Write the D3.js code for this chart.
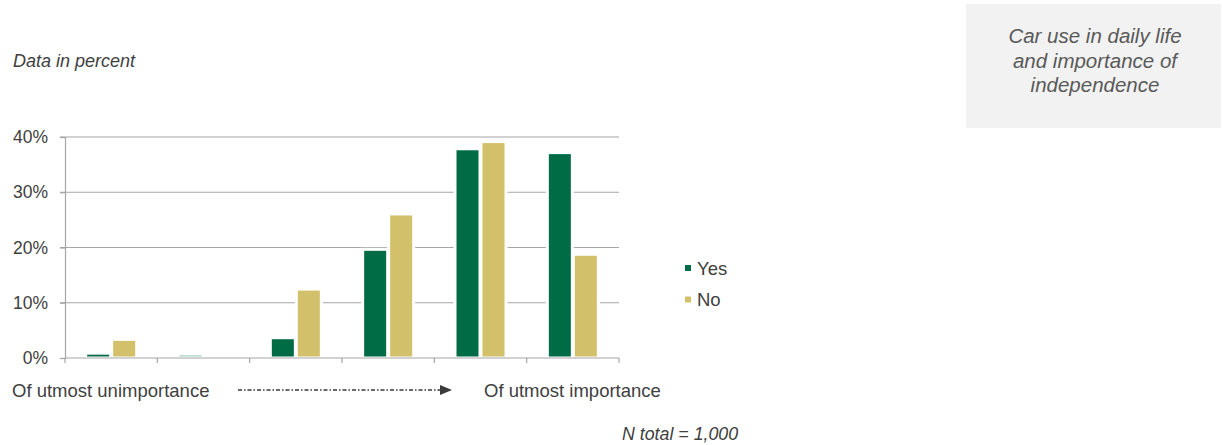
<!DOCTYPE html>
<html>
<head>
<meta charset="utf-8">
<script src="https://cdn.jsdelivr.net/npm/d3@7"></script>
<style>
  html, body { margin: 0; padding: 0; background: #fff; }
  svg { display: block; }
  text { font-family: "Liberation Sans", Arial, sans-serif; }
</style>
</head>
<body>
<svg id="chart" width="1222" height="445"></svg>
<script>
// ---- data ----
const categories = ["1", "2", "3", "4", "5", "6"];
const seriesNames = ["Yes", "No"];
const yesValues = [0.6, 0.5, 3.4, 19.4, 37.6, 36.9];
const noValues  = [3.1, 0.0, 12.2, 25.8, 38.9, 18.5];
const yTicks = [0, 10, 20, 30, 40];
const yTickLabels = ["0%", "10%", "20%", "30%", "40%"];
const leftLabel = "Of utmost unimportance";
const rightLabel = "Of utmost importance";
const subtitle = "Data in percent";
const footnote = "N total = 1,000";
const boxTitle = ["Car use in daily life", "and importance of", "independence"];

const colors = { Yes: "#006c45", No: "#d3c06a" };
const textColor = "#404040";
const gridColor = "#a6a6a6";

const svg = d3.select("#chart");

const x0 = 65, x1 = 619, yTop = 137, yBottom = 358;

const x = d3.scaleBand().domain(categories).range([x0, x1]).paddingInner(0).paddingOuter(0);
const y = d3.scaleLinear().domain([0, 40]).range([yBottom, yTop]);

// gridlines
svg.append("g")
  .selectAll("line")
  .data(yTicks.filter(d => d > 0))
  .join("line")
  .attr("x1", x0 - 5).attr("x2", x1)
  .attr("y1", d => y(d)).attr("y2", d => y(d))
  .attr("stroke", gridColor).attr("stroke-width", 1.2);

// bars
const barW = 22, innerGap = 4;
const rows = categories.map((c, i) => ({ c, Yes: yesValues[i], No: noValues[i] }));
const barData = [];
rows.forEach(r => {
  seriesNames.forEach((s, j) => {
    barData.push({ c: r.c, s, v: r[s], j });
  });
});
const xPos = d => x(d.c) + x.bandwidth() / 2 + (d.j === 0 ? -(innerGap / 2 + barW) : innerGap / 2);

const gBars = svg.append("g");
// white halo behind bars (interrupts gridlines)
gBars.selectAll("rect.halo")
  .data(barData.filter(d => d.v > 0))
  .join("rect")
  .attr("class", "halo")
  .attr("x", d => xPos(d) - 3)
  .attr("width", barW + 6)
  .attr("y", d => y(d.v) - 3)
  .attr("height", d => yBottom - y(d.v) + 3)
  .attr("fill", "#fff");
gBars.selectAll("rect.bar")
  .data(barData.filter(d => d.v > 0))
  .join("rect")
  .attr("class", "bar")
  .attr("x", d => xPos(d))
  .attr("width", barW)
  .attr("y", d => y(d.v))
  .attr("height", d => Math.max(0, yBottom - 1.5 - y(d.v)))
  .attr("fill", d => d.v < 0.55 ? "#a9d3c3" : colors[d.s]);

// y axis
const yAxis = d3.axisLeft(y).tickValues(yTicks).tickFormat((d, i) => yTickLabels[i]).tickSize(5).tickPadding(12);
const gy = svg.append("g").attr("transform", `translate(${x0},0)`).call(yAxis);
gy.select(".domain").attr("stroke", gridColor).attr("stroke-width", 1.2);
gy.selectAll(".tick line").attr("stroke", gridColor).attr("stroke-width", 1.2);
gy.selectAll(".tick text").attr("fill", textColor).style("font-size", "17.5px").style("font-family", "'Liberation Sans', Arial, sans-serif");

// x axis: baseline with boundary ticks
const boundaries = categories.map(c => x(c)).concat([x1]);
svg.append("line")
  .attr("x1", x0).attr("x2", x1).attr("y1", yBottom).attr("y2", yBottom)
  .attr("stroke", gridColor).attr("stroke-width", 1.2);
svg.append("g").selectAll("line")
  .data(boundaries)
  .join("line")
  .attr("x1", d => d).attr("x2", d => d)
  .attr("y1", yBottom).attr("y2", yBottom + 5)
  .attr("stroke", gridColor).attr("stroke-width", 1.2);

// category endpoint labels
svg.append("text").attr("x", 12).attr("y", 397)
  .attr("fill", textColor).style("font-size", "18.5px").text(leftLabel);
svg.append("text").attr("x", 484).attr("y", 397)
  .attr("fill", textColor).style("font-size", "18.5px").text(rightLabel);

// dash-dot arrow
svg.append("line")
  .attr("x1", 238).attr("x2", 441).attr("y1", 390).attr("y2", 390)
  .attr("stroke", "#3a3a3a").attr("stroke-width", 1.5)
  .attr("stroke-dasharray", "4,2,1.5,2");
svg.append("path")
  .attr("d", "M440,385 L452,390 L440,395 Z")
  .attr("fill", "#3a3a3a");

// legend
const legend = svg.append("g");
seriesNames.forEach((s, i) => {
  const ly = 268 + i * 31.5;
  legend.append("rect").attr("x", 685).attr("y", ly - 3).attr("width", 6).attr("height", 6).attr("fill", colors[s]);
  legend.append("text").attr("x", 697).attr("y", ly + 6.5)
    .attr("fill", textColor).style("font-size", "18.5px").text(s);
});

// subtitle & footnote
svg.append("text").attr("x", 13).attr("y", 67)
  .attr("fill", textColor).style("font-size", "18px").style("font-style", "italic").text(subtitle);
svg.append("text").attr("x", 622).attr("y", 440)
  .attr("fill", textColor).style("font-size", "17.8px").style("font-style", "italic").text(footnote);

// title box
svg.append("rect").attr("x", 966).attr("y", 4).attr("width", 255).attr("height", 124).attr("fill", "#f2f2f2");
svg.append("text").attr("x", 1095).attr("y", 43)
  .attr("text-anchor", "middle").attr("fill", "#595959")
  .style("font-size", "20.5px").style("font-style", "italic")
  .selectAll("tspan").data(boxTitle).join("tspan")
  .attr("x", 1095).attr("dy", (d, i) => i === 0 ? 0 : 24.7).text(d => d);
</script>
</body>
</html>
